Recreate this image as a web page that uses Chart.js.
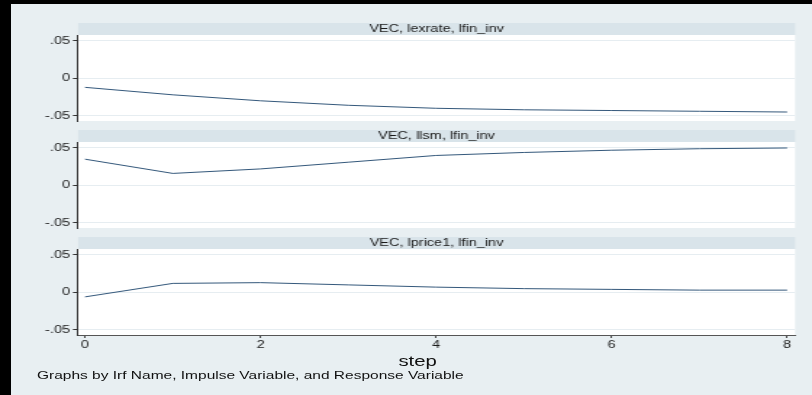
<!DOCTYPE html>
<html>
<head>
<meta charset="utf-8">
<script src="https://cdn.jsdelivr.net/npm/chart.js@4/dist/chart.umd.min.js"></script>
<style>
	html, body { margin: 0; padding: 0; background: #e8eff2; overflow: hidden; }
	#blackTop { position: absolute; left: 0; top: 0; width: 812px; height: 4px; background: #000; }
	#blackLeft { position: absolute; left: 0; top: 0; width: 11px; height: 395px; background: #000; }
	/* the original graph is a stretched export, so lay out narrow and stretch */
	#stage { position: absolute; left: 0; top: 0; width: 560px; height: 395px; transform: scaleX(1.45); transform-origin: 0 0; }
	.panel { position: absolute; left: 0; width: 560px; }
	.note { position: absolute; font-family: "Liberation Sans", Arial, sans-serif; color: #111; white-space: nowrap; }
</style>
</head>
<body>
<div id="stage">
	<div class="panel" style="top:23px;height:106px"><canvas id="c1"></canvas></div>
	<div class="panel" style="top:130px;height:106px"><canvas id="c2"></canvas></div>
	<div class="panel" style="top:237px;height:116px"><canvas id="c3"></canvas></div>
	<div class="note" style="left:238px;top:353px;width:100px;text-align:center;font-size:14px;line-height:16px">step</div>
	<div class="note" style="left:25.5px;top:369px;font-size:10.7px;line-height:13px">Graphs by Irf Name, Impulse Variable, and Response Variable</div>
</div>
<div id="blackTop"></div>
<div id="blackLeft"></div>
<script>
(function() {
	'use strict';

	var steps = [0, 1, 2, 3, 4, 5, 6, 7, 8];
	var lexrate = [-0.012, -0.022, -0.030, -0.036, -0.040, -0.042, -0.043, -0.044, -0.045];
	var llsm = [0.035, 0.016, 0.022, 0.031, 0.040, 0.044, 0.047, 0.049, 0.050];
	var lprice1 = [-0.006, 0.012, 0.013, 0.010, 0.007, 0.005, 0.004, 0.003, 0.003];
	var yTicks = [-0.05, 0, 0.05];
	var xTicks = [0, 2, 4, 6, 8];
	var titles = ["VEC, lexrate, lfin_inv", "VEC, llsm, lfin_inv", "VEC, lprice1, lfin_inv"];

	var FONT = '"Liberation Sans", Arial, sans-serif';

	// header strip behind the title and white plot region
	var panelBg = {
		id: 'panelBg',
		beforeDraw: function(chart) {
			var ctx = chart.ctx, a = chart.chartArea, t = chart.titleBlock;
			ctx.save();
			ctx.fillStyle = '#d9e4ea';
			ctx.fillRect(a.left, t.top, a.right - a.left, t.bottom - t.top);
			ctx.fillStyle = '#ffffff';
			ctx.fillRect(a.left, a.top, a.right - a.left, a.bottom - a.top);
			ctx.restore();
		}
	};

	function fmt(v) {
		return String(v).replace('0.', '.');
	}

	function makePanel(id, title, values, isLast) {
		var points = steps.map(function(s, i) { return {x: s, y: values[i]}; });
		return new Chart(document.getElementById(id).getContext('2d'), {
			type: 'line',
			data: {
				datasets: [{
					data: points,
					borderColor: '#35597c',
					borderWidth: 1,
					pointRadius: 0,
					tension: 0,
					fill: false
				}]
			},
			options: {
				responsive: true,
				maintainAspectRatio: false,
				animation: false,
				layout: { padding: { left: 0, right: 11.7, top: 0, bottom: isLast ? 0 : 6 } },
				plugins: {
					legend: { display: false },
					tooltip: { enabled: false },
					title: {
						display: true,
						text: title,
						fullSize: false,
						color: '#1a1a1a',
						font: { family: FONT, size: 10, weight: 'normal' },
						padding: { top: 0, bottom: 0 }
					}
				},
				scales: {
					x: {
						type: 'linear',
						min: -0.08,
						max: 8.09,
						display: isLast,
						afterBuildTicks: function(s) { s.ticks = xTicks.map(function(v) { return {value: v}; }); },
						afterFit: function(s) { if (isLast) { s.height = 18; } },
						grid: { drawOnChartArea: false, tickLength: 3, tickColor: '#444' },
						border: { color: '#555' },
						ticks: { color: '#1a1a1a', font: { family: FONT, size: 10 }, padding: 1, maxRotation: 0 }
					},
					y: {
						min: -0.057,
						max: 0.058,
						afterBuildTicks: function(s) { s.ticks = yTicks.map(function(v) { return {value: v}; }); },
						afterFit: function(s) { s.width = 53.8; },
						grid: { color: '#e6edf1', tickColor: '#333', tickLength: 3.5 },
						border: { color: '#333' },
						ticks: { color: '#1a1a1a', font: { family: FONT, size: 10 }, padding: 2, callback: fmt }
					}
				}
			},
			plugins: [panelBg]
		});
	}

	makePanel('c1', titles[0], lexrate, false);
	makePanel('c2', titles[1], llsm, false);
	makePanel('c3', titles[2], lprice1, true);
})();
</script>
</body>
</html>
